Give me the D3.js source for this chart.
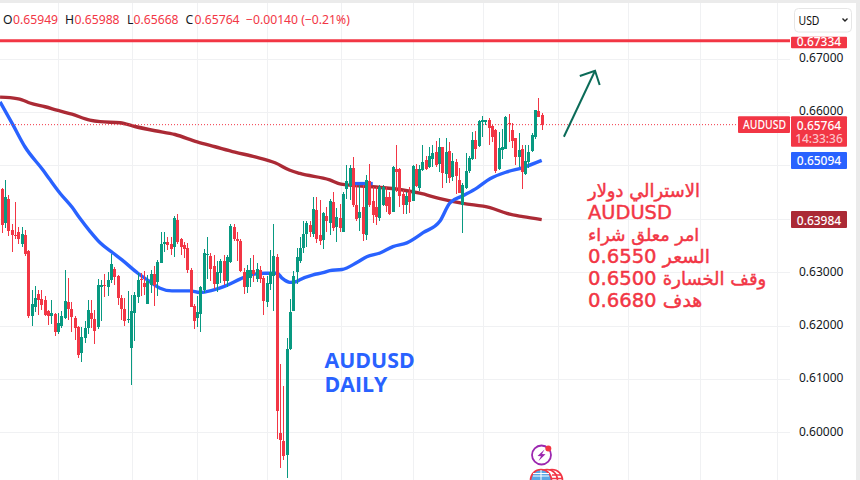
<!DOCTYPE html>
<html>
<head>
<meta charset="utf-8">
<script src="https://cdn.jsdelivr.net/npm/d3@7/dist/d3.min.js"></script>
<style>
html,body{margin:0;padding:0;background:#ebebeb;overflow:hidden}
svg{display:block}
text{font-family:"Noto Sans",sans-serif}
</style>
</head>
<body>
<svg id="c" width="860" height="480"></svg>
<script>
const opens=[0.6423,0.6456,0.6392,0.6438,0.6379,0.6370,0.6375,0.6353,0.6370,0.6340,
0.6218,0.6235,0.6259,0.6249,0.6248,0.6227,0.6218,0.6222,0.6187,0.6200,
0.6214,0.6244,0.6231,0.6214,0.6197,0.6149,0.6177,0.6195,0.6224,0.6212,
0.6197,0.6272,0.6276,0.6272,0.6285,0.6306,0.6293,0.6252,0.6231,0.6211,
0.6158,0.6224,0.6253,0.6287,0.6280,0.6240,0.6276,0.6297,0.6282,0.6318,
0.6352,0.6357,0.6353,0.6347,0.6398,0.6362,0.6351,0.6345,0.6305,0.6237,
0.6214,0.6222,0.6267,0.6332,0.6330,0.6312,0.6278,0.6298,0.6321,0.6283,
0.6319,0.6384,0.6362,0.6358,0.6300,0.6272,0.6289,0.6304,0.6287,0.6304,
0.6289,0.6244,0.6278,0.6293,0.6328,0.5999,0.5984,0.5957,0.6156,0.6228,
0.6301,0.6321,0.6345,0.6372,0.6388,0.6372,0.6416,0.6370,0.6360,0.6405,
0.6393,0.6432,0.6385,0.6401,0.6376,0.6455,0.6461,0.6495,0.6426,0.6401,
0.6422,0.6370,0.6471,0.6433,0.6423,0.6401,0.6425,0.6441,0.6440,0.6412,
0.6493,0.6493,0.6446,0.6426,0.6451,0.6434,0.6493,0.6457,0.6491,0.6510,
0.6497,0.6513,0.6525,0.6503,0.6535,0.6484,0.6527,0.6478,0.6506,0.6473,
0.6426,0.6457,0.6490,0.6512,0.6548,0.6536,0.6581,0.6581,0.6585,0.6574,
0.6566,0.6493,0.6529,0.6531,0.6579,0.6566,0.6551,0.6515,0.6530,0.6484,
0.6507,0.6527,0.6554,0.6602,0.65949];
const closes=[0.6454,0.6388,0.6440,0.6378,0.6370,0.6368,0.6362,0.6372,0.6335,0.6217,
0.6240,0.6252,0.6248,0.6239,0.6220,0.6217,0.6224,0.6188,0.6205,0.6218,
0.6246,0.6231,0.6216,0.6195,0.6145,0.6179,0.6195,0.6229,0.6212,0.6190,
0.6276,0.6276,0.6275,0.6285,0.6315,0.6291,0.6252,0.6231,0.6209,0.6212,
0.6227,0.6257,0.6285,0.6285,0.6272,0.6283,0.6297,0.6276,0.6319,0.6353,
0.6357,0.6351,0.6343,0.6401,0.6357,0.6348,0.6343,0.6304,0.6235,0.6209,
0.6225,0.6272,0.6336,0.6334,0.6306,0.6278,0.6300,0.6321,0.6283,0.6328,
0.6387,0.6362,0.6358,0.6303,0.6272,0.6304,0.6304,0.6297,0.6306,0.6287,
0.6246,0.6280,0.6300,0.6330,0.6040,0.5986,0.5956,0.6156,0.6226,0.6292,
0.6328,0.6345,0.6372,0.6393,0.6375,0.6418,0.6363,0.6359,0.6411,0.6396,
0.6433,0.6383,0.6403,0.6383,0.6446,0.6471,0.6495,0.6425,0.6400,0.6413,
0.6372,0.6473,0.6426,0.6407,0.6404,0.6459,0.6459,0.6424,0.6409,0.6497,
0.6488,0.6443,0.6426,0.6443,0.6432,0.6499,0.6461,0.6493,0.6507,0.6493,
0.6518,0.6524,0.6500,0.6535,0.6486,0.6525,0.6476,0.6508,0.6480,0.6448,
0.6463,0.6490,0.6514,0.6548,0.6530,0.6583,0.6585,0.6585,0.6571,0.6554,
0.6490,0.6532,0.6535,0.6591,0.6578,0.6546,0.6515,0.6529,0.6488,0.6508,
0.6526,0.6557,0.6604,0.6591,0.65764];
const highs=[0.6458,0.6457,0.6473,0.6445,0.6390,0.6432,0.6384,0.6384,0.6379,0.6342,
0.6267,0.6275,0.6267,0.6267,0.6255,0.6229,0.6248,0.6223,0.6223,0.6227,
0.6304,0.6289,0.6244,0.6218,0.6199,0.6197,0.6209,0.6248,0.6248,0.6229,
0.6287,0.6285,0.6297,0.6300,0.6334,0.6310,0.6295,0.6257,0.6252,0.6265,
0.6257,0.6263,0.6298,0.6298,0.6302,0.6295,0.6304,0.6312,0.6323,0.6375,
0.6375,0.6366,0.6366,0.6405,0.6409,0.6364,0.6357,0.6355,0.6308,0.6240,
0.6255,0.6274,0.6343,0.6366,0.6336,0.6332,0.6321,0.6325,0.6332,0.6332,
0.6390,0.6390,0.6375,0.6362,0.6308,0.6313,0.6327,0.6332,0.6318,0.6312,
0.6293,0.6293,0.6342,0.6390,0.6334,0.6128,0.6087,0.6177,0.6250,0.6303,
0.6345,0.6366,0.6395,0.6396,0.6396,0.6440,0.6440,0.6435,0.6413,0.6422,
0.6438,0.6451,0.6420,0.6427,0.6451,0.6501,0.6501,0.6516,0.6463,0.6463,
0.6463,0.6482,0.6503,0.6460,0.6460,0.6463,0.6463,0.6460,0.6451,0.6499,
0.6538,0.6495,0.6454,0.6451,0.6460,0.6501,0.6503,0.6501,0.6538,0.6518,
0.6535,0.6538,0.6546,0.6552,0.6535,0.6552,0.6544,0.6524,0.6513,0.6495,
0.6467,0.6523,0.6518,0.6563,0.6565,0.6585,0.6593,0.6586,0.6588,0.6576,
0.6568,0.6563,0.6568,0.6593,0.6596,0.6579,0.6552,0.6560,0.6538,0.6538,
0.6538,0.6560,0.6604,0.6626,0.65988];
const lows=[0.6416,0.6374,0.6382,0.6368,0.6338,0.6363,0.6353,0.6348,0.6331,0.6214,
0.6199,0.6225,0.6220,0.6229,0.6218,0.6201,0.6203,0.6180,0.6184,0.6195,
0.6213,0.6210,0.6188,0.6173,0.6140,0.6132,0.6167,0.6185,0.6195,0.6165,
0.6194,0.6209,0.6254,0.6255,0.6280,0.6276,0.6239,0.6210,0.6199,0.6205,
0.6089,0.6171,0.6242,0.6255,0.6257,0.6240,0.6261,0.6237,0.6255,0.6317,
0.6338,0.6342,0.6332,0.6329,0.6353,0.6332,0.6326,0.6298,0.6234,0.6194,
0.6197,0.6188,0.6261,0.6287,0.6284,0.6268,0.6262,0.6280,0.6276,0.6272,
0.6318,0.6359,0.6321,0.6301,0.6259,0.6261,0.6273,0.6282,0.6282,0.6279,
0.6220,0.6235,0.6267,0.6227,0.5987,0.5933,0.5948,0.5914,0.6154,0.6227,
0.6278,0.6318,0.6336,0.6348,0.6366,0.6366,0.6355,0.6351,0.6343,0.6376,
0.6370,0.6378,0.6357,0.6376,0.6375,0.6437,0.6435,0.6423,0.6395,0.6377,
0.6359,0.6360,0.6423,0.6392,0.6388,0.6395,0.6424,0.6413,0.6408,0.6412,
0.6451,0.6423,0.6409,0.6409,0.6410,0.6433,0.6460,0.6453,0.6490,0.6491,
0.6495,0.6498,0.6497,0.6488,0.6458,0.6468,0.6468,0.6471,0.6446,0.6448,
0.6374,0.6455,0.6486,0.6510,0.6512,0.6535,0.6554,0.6576,0.6538,0.6544,
0.6486,0.6491,0.6512,0.6530,0.6544,0.6532,0.6501,0.6498,0.6456,0.6482,
0.6495,0.6526,0.6550,0.6591,0.65668];

const fastIdx=[0.5,4.4,8,13.5,15.6,18.6,22.2,24.6,27.6,30.7,34.6,37.3,42.1,45.8,48.8,52.4,57.8,60.8,64.5,68.4,72.9,76,80.5,84.1,85.6,88,89.8,91,95,98,100,103.7,108.2,111.2,115.2,119.1,123.3,128.2,133.3,136.3,140.2,144.5,148.4,153.5,158.3,164];
const fastMA=[0.6619,0.6576,0.6535,0.6491,0.6473,0.6448,0.6422,0.6401,0.6377,0.6355,0.6336,0.6323,0.6298,0.6282,0.6270,0.6265,0.6265,0.6262,0.6266,0.6274,0.6287,0.6295,0.6298,0.6298,0.6289,0.6281,0.6282,0.6286,0.6295,0.6299,0.6303,0.6305,0.6318,0.6329,0.6336,0.6348,0.6355,0.6374,0.6396,0.6430,0.6443,0.6458,0.6475,0.6488,0.6496,0.65094];
const patchIdx=[107.6,113];
const patchMA=[0.6466,0.6466];
const slowIdx=[0.5,3.5,7.1,9.5,14.1,18,22.2,27.6,30.7,36.7,41.2,47.3,53.3,60,65.4,71.4,77.5,83.5,88,91,100,103.4,113,121.2,127.2,133.3,140.2,148.4,153.5,158.3,164];
const slowMA=[0.6628,0.6627,0.6623,0.6617,0.6610,0.6603,0.6596,0.6585,0.6582,0.6580,0.6573,0.6565,0.6558,0.6544,0.6535,0.6525,0.6516,0.6505,0.6491,0.6485,0.6473,0.6465,0.6460,0.6455,0.6448,0.6438,0.6429,0.6421,0.6410,0.6404,0.63984];

const priceTicks=[0.60,0.61,0.62,0.63,0.64,0.65,0.66,0.67];
const priceLabels=[0.60,0.61,0.62,0.63,0.66,0.67];
const timeGridIdx=[18.1,40.2,60.1,81.2,103.4,125,146.4,168.9,190,211.8,235];
const levelRed=0.67334, lastPrice=0.65764, lastFast=0.65094, lastSlow=0.63984;
const arrowIdx=[170.7,180.1], arrowPrice=[0.65537,0.66775];
const arrowHeadIdx=[175.5,180.1,181.5], arrowHeadPrice=[0.66675,0.66775,0.66507];
const header=[["O","0.65949"],["H","0.65988"],["L","0.65668"],["C","0.65764"]];
const headerChange="−0.00140 (−0.21%)";
const noteNumbers=["","AUDUSD","","0.6550","0.6500","0.6680"];
const noteWords=["الاسترالي دولار","","امر معلق شراء","السعر","وقف الخسارة","هدف"];
const noteWordSizes=[17.9,19,17.6,18.8,18,18.9];
const titleLines=["AUDUSD","DAILY"];

const UP="#089981",DOWN="#f23645",BLUE="#2962ff",BROWN="#ab2a35",GRID="#f0f1f3",INK="#131722";
const svg=d3.select("#c");
const x=d3.scaleLinear().domain([0,164]).range([-1.6,541.7]);
const y=d3.scaleLinear().domain([0.60,0.67]).range([432.3,58.7]);

svg.append("rect").attr("x",-10).attr("y",3).attr("width",866).attr("height",490).attr("rx",6).attr("fill","#fff");
const defs=svg.append("defs");
defs.append("clipPath").attr("id","pane").append("rect").attr("x",0).attr("y",3).attr("width",790).attr("height",477);

const pane=svg.append("g").attr("clip-path","url(#pane)");
pane.append("g").selectAll("line").data(timeGridIdx).join("line")
 .attr("x1",d=>Math.round(x(d))+.5).attr("x2",d=>Math.round(x(d))+.5).attr("y1",3).attr("y2",480)
 .attr("stroke",GRID);
pane.append("g").selectAll("line").data(priceTicks).join("line")
 .attr("x1",0).attr("x2",790).attr("y1",d=>Math.round(y(d))+.5).attr("y2",d=>Math.round(y(d))+.5)
 .attr("stroke",GRID);

const lineOf=(ix,vals,col,w,op)=>pane.append("path").datum(vals.map((v,i)=>[ix[i],v]))
 .attr("fill","none").attr("stroke",col).attr("stroke-width",w).attr("stroke-linejoin","round").attr("stroke-opacity",op)
 .attr("d",d3.line().x(d=>x(d[0])).y(d=>y(d[1])).curve(d3.curveMonotoneX));
lineOf(slowIdx,slowMA,BROWN,3.4,1);
lineOf(fastIdx,fastMA,BLUE,3.4,1);
lineOf(patchIdx,patchMA,BLUE,3.4,1);

pane.append("line").attr("x1",0).attr("x2",790).attr("y1",y(lastPrice)).attr("y2",y(lastPrice))
 .attr("stroke",DOWN).attr("stroke-dasharray","1 2");

const candles=opens.map((o,i)=>({i,o,h:highs[i],l:lows[i],c:closes[i]}));
const cg=pane.append("g").attr("shape-rendering","crispEdges");
const colorOf=d=>d.c>=d.o?UP:DOWN;
cg.selectAll("rect.w").data(candles).join("rect").attr("class","w")
 .attr("x",d=>Math.round(x(d.i))).attr("width",1)
 .attr("y",d=>Math.round(y(d.h))).attr("height",d=>Math.max(1,Math.round(y(d.l))-Math.round(y(d.h))))
 .attr("fill",colorOf);
cg.selectAll("rect.b").data(candles).join("rect").attr("class","b")
 .attr("x",d=>Math.round(x(d.i))-1).attr("width",3)
 .attr("y",d=>Math.round(y(Math.max(d.o,d.c))))
 .attr("height",d=>Math.max(1,Math.round(y(Math.min(d.o,d.c)))-Math.round(y(Math.max(d.o,d.c)))))
 .attr("fill",colorOf);

pane.append("line").attr("x1",0).attr("x2",790).attr("y1",y(levelRed)).attr("y2",y(levelRed))
 .attr("stroke",DOWN).attr("stroke-width",3);

const arrow=d3.line().x(d=>x(d[0])).y(d=>y(d[1]));
pane.append("path").attr("d",arrow(arrowIdx.map((v,i)=>[v,arrowPrice[i]]))).attr("stroke","#0b6b58").attr("stroke-width",2).attr("fill","none");
pane.append("path").attr("d",arrow(arrowHeadIdx.map((v,i)=>[v,arrowHeadPrice[i]]))).attr("stroke","#0b6b58").attr("stroke-width",2).attr("fill","none");

// icons
const ic=svg.append("g");
ic.append("circle").attr("cx",541.5).attr("cy",455).attr("r",9.5).attr("fill","#fff").attr("stroke","#9c27b0").attr("stroke-width",1.8);
ic.append("path").attr("d","M544.5 449.5 L537.5 456 L541 456.2 L538.5 461 L545.5 454.2 L542 454 Z").attr("fill","#9c27b0");
ic.append("circle").attr("cx",548.3).attr("cy",448.5).attr("r",3).attr("fill",DOWN);
[552,547,541].forEach((cx,k)=>{
 ic.append("circle").attr("cx",cx).attr("cy",480).attr("r",10.5).attr("fill",k==2?"#5aa7e6":"#fff").attr("stroke",DOWN).attr("stroke-width",1.6);
});
ic.append("path").attr("d","M552 475H561M552 478.5H562").attr("stroke",DOWN).attr("stroke-width",1.4);
ic.append("path").attr("d","M533 476H549M533 473.5H549M541 470V480").attr("stroke","#fff").attr("stroke-width",1);

// text annotations
svg.append("g").selectAll("text").data(titleLines).join("text")
 .attr("x",324.5).attr("y",(d,i)=>368+i*24)
 .style("font-family",'"Open Sans","DejaVu Sans",sans-serif').style("font-size","21.3px").style("font-weight",700)
 .attr("fill",BLUE).text(d=>d);
const notes=svg.append("g").attr("fill",DOWN).attr("stroke",DOWN).attr("stroke-width",0.45);
noteWords.forEach((w,i)=>{
 const t=notes.append("text").attr("x",588).attr("y",197+i*22).style("font-family",'"DejaVu Sans",sans-serif');
 if(noteNumbers[i]) t.append("tspan").style("font-size",i==1?"19.4px":"19.6px").text(noteNumbers[i]+(w?" ":""));
 if(w) t.append("tspan").style("font-size",noteWordSizes[i]+"px").text(w);
});

// header
const hdr=[[3,13],[65,74.5],[127,133.5],[185.5,194.5]];
const hg=svg.append("g").style("font-size","12.2px");
header.forEach((h,i)=>{
 hg.append("text").attr("x",hdr[i][0]).attr("y",24).attr("fill",INK).text(h[0]);
 hg.append("text").attr("x",hdr[i][1]).attr("y",24).attr("fill",DOWN).text(h[1]);
});
hg.append("text").attr("x",246).attr("y",24).attr("fill",DOWN).text(headerChange);

// price scale
svg.append("rect").attr("x",790).attr("y",3).attr("width",66).attr("height",477).attr("fill","#fff");
svg.append("rect").attr("x",856).attr("y",0).attr("width",4).attr("height",480).attr("fill","#ebebeb");
const axis=d3.axisRight(y).tickValues(priceLabels).tickSize(0).tickPadding(0).tickFormat(d3.format(".5f"));
const ag=svg.append("g").attr("transform","translate(799,-1)").call(axis);
ag.select(".domain").remove();
ag.selectAll("text").style("font-family",'"Noto Sans",sans-serif').style("font-size","12px").attr("fill",INK);

const tag=(x0,w,y0,h,col)=>svg.append("rect").attr("x",x0).attr("y",y0).attr("width",w).attr("height",h).attr("rx",1).attr("fill",col);
const tagText=(x0,yc,s,col,len)=>{const t=svg.append("text").attr("x",x0).attr("y",yc).attr("dy","0.36em").attr("text-anchor","middle")
 .style("font-size","12px").style("font-weight",500).attr("fill",col).text(s);
 if(len) t.attr("textLength",len).attr("lengthAdjust","spacingAndGlyphs");};
const fmt=d3.format(".5f");
tag(791,56,y(levelRed)-4.2,11.5,DOWN); tagText(819,y(levelRed)+.6,fmt(levelRed),"#fff");
tag(791,56,116.3,30.4,DOWN); tagText(819,y(lastPrice)+.8,fmt(lastPrice),"#fff"); tagText(819,139,"14:33:36","#fbc4c9");
tag(738,52,116.3,16.7,DOWN); tagText(764.5,124.7,"AUDUSD","#fff",43);
tag(791,56,152,17,BLUE); tagText(819,y(lastFast)+.6,fmt(lastFast),"#fff");
tag(791,56,211,17,BROWN); tagText(819,y(lastSlow)+.6,fmt(lastSlow),"#fff");

// currency selector
svg.append("rect").attr("x",794.5).attr("y",8.5).attr("width",57).attr("height",23.5).attr("rx",4).attr("fill","#fff").attr("stroke","#e6e6e6");
svg.append("text").attr("x",798.5).attr("y",24.5).style("font-size","12px").attr("fill","#111").attr("textLength",21).attr("lengthAdjust","spacingAndGlyphs").text("USD");
svg.append("path").attr("d","M842.5 18.5 L845 21 L847.5 18.5").attr("fill","none").attr("stroke","#222").attr("stroke-width",1.4);
</script>
</body>
</html>
